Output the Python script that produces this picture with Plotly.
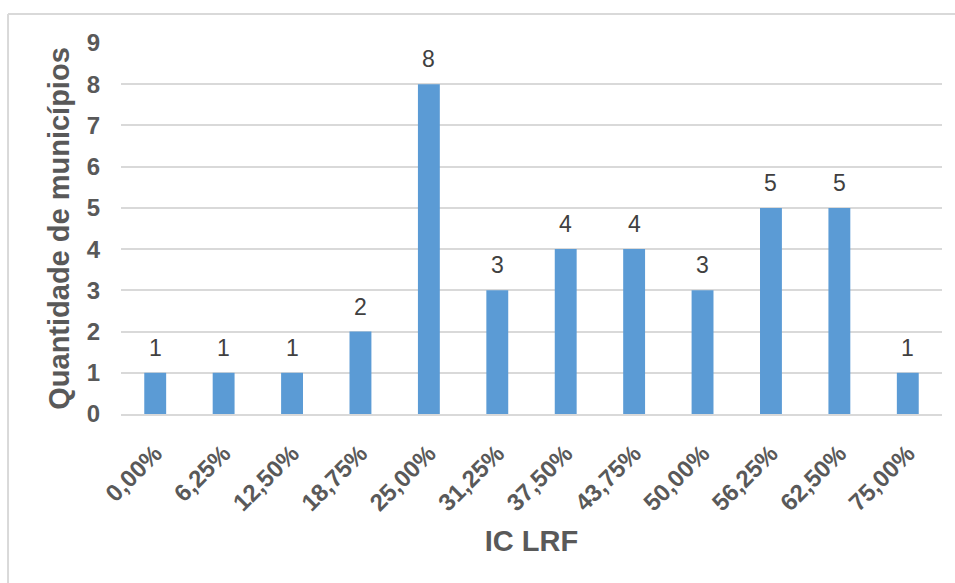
import plotly.graph_objects as go

# IC LRF classes and number of municipalities in each
categorias = ["0,00%", "6,25%", "12,50%", "18,75%", "25,00%", "31,25%",
              "37,50%", "43,75%", "50,00%", "56,25%", "62,50%", "75,00%"]
quantidade = [1, 1, 1, 2, 8, 3, 4, 4, 3, 5, 5, 1]
y_ticks = list(range(0, 10))

FONT = "Liberation Sans, Arial, sans-serif"
AXIS_GRAY = "#595959"
GRID = "#D9D9D9"
BAR = "#5B9BD5"

fig = go.Figure(
    go.Bar(
        x=categorias,
        y=quantidade,
        marker=dict(color=BAR, line=dict(width=0)),
        hoverinfo="x+y",
    )
)

# value labels above each bar
for cat, val in zip(categorias, quantidade):
    fig.add_annotation(
        x=cat, y=val, text=str(val), showarrow=False,
        xref="x", yref="y", yanchor="bottom", yshift=10,
        font=dict(family=FONT, size=23, color="#404040"),
    )

# light chart frame (top and left edges)
fig.add_shape(type="line", xref="paper", yref="paper",
              x0=-0.1376, x1=1.3, y0=1.078, y1=1.078,
              line=dict(color=GRID, width=2), layer="below")
fig.add_shape(type="line", xref="paper", yref="paper",
              x0=-0.1376, x1=-0.1376, y0=-0.7, y1=1.078,
              line=dict(color=GRID, width=2), layer="below")

fig.update_layout(
    width=955, height=583,
    margin=dict(l=121, r=13, t=43, b=169),
    paper_bgcolor="white", plot_bgcolor="white",
    bargap=0.68,
    showlegend=False,
    font=dict(family=FONT, color=AXIS_GRAY),
    xaxis=dict(
        type="category",
        tickangle=-45,
        tickfont=dict(family=FONT, size=24, color=AXIS_GRAY, weight="bold"),
        showgrid=False,
        showline=True, linecolor=GRID, linewidth=1.5,
        ticks="", ticklabelstandoff=14,
        title=dict(text="IC LRF", standoff=16,
                   font=dict(family=FONT, size=29, color=AXIS_GRAY, weight="bold")),
        automargin=False,
    ),
    yaxis=dict(
        range=[0, 9],
        tickvals=y_ticks,
        tickfont=dict(family=FONT, size=24, color=AXIS_GRAY, weight="bold"),
        showgrid=True, gridcolor=GRID, gridwidth=1.5,
        zeroline=False, showline=False,
        ticks="", ticklabelstandoff=20,
        title=dict(text="Quantidade de municípios", standoff=8,
                   font=dict(family=FONT, size=29, color=AXIS_GRAY, weight="bold")),
        automargin=False,
    ),
)

fig.write_html("out.html")
